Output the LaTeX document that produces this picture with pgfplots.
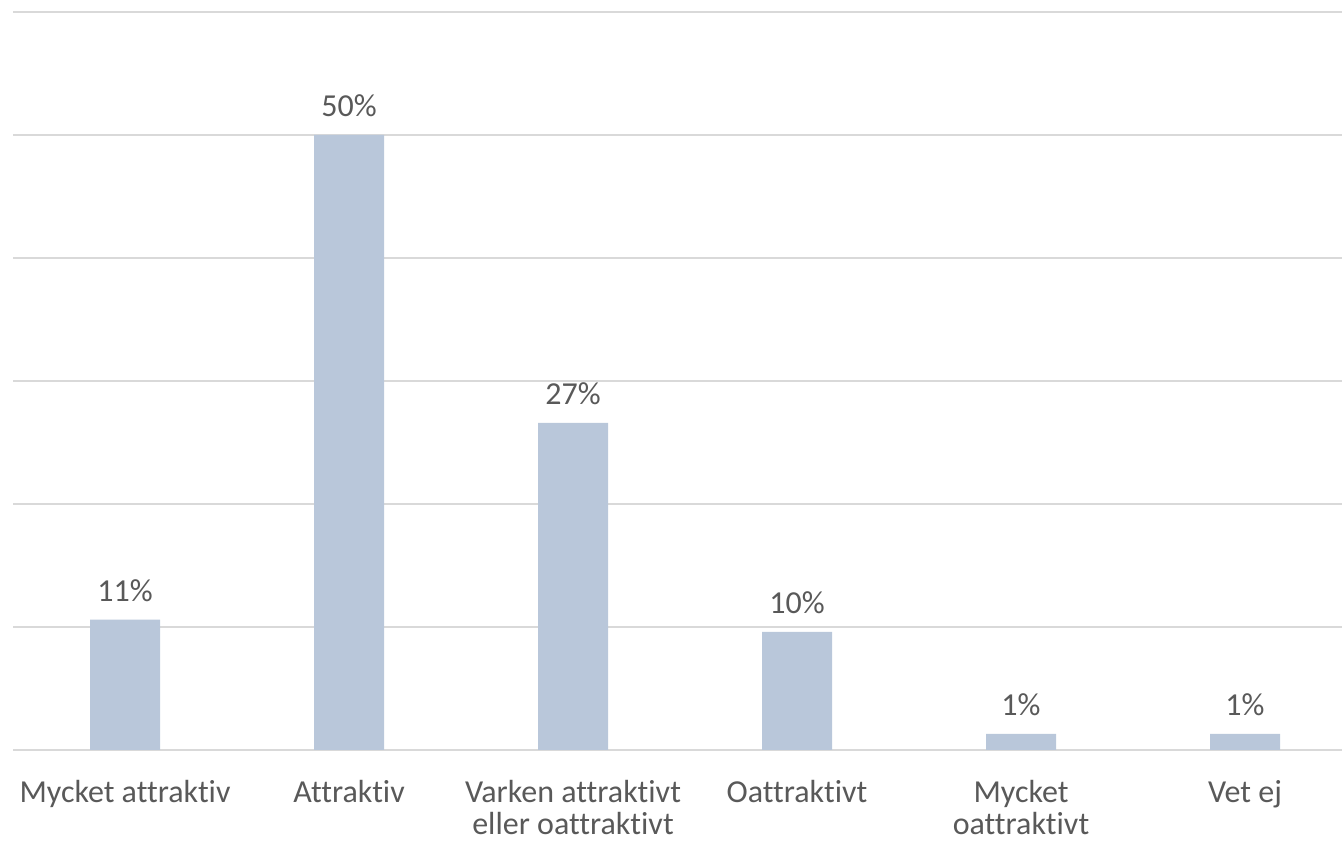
\documentclass[border=0pt]{standalone}
\usepackage{pgfplots}
\pgfplotsset{compat=1.18}
\usepackage{fontspec}
\setmainfont[Ligatures=NoCommon]{Carlito}
\definecolor{barc}{RGB}{185,199,218}
\definecolor{txt}{RGB}{89,89,89}
\definecolor{gridc}{RGB}{217,217,217}
\newcommand{\st}{\rule{0pt}{18pt}}
\begin{document}
\begin{tikzpicture}
\begin{axis}[
  scale only axis, width=996.75pt, height=553.5pt,
  xmin=-0.5, xmax=5.433, ymin=0, ymax=60,
  ytick={0,10,20,30,40,50,60}, yticklabels={},
  ymajorgrids, grid style={gridc, line width=1.3pt},
  axis line style={draw=none}, major tick length=0pt,
  xtick=data,
  xticklabels={\st Mycket attraktiv, \st Attraktiv, {\st Varken attraktivt\\eller oattraktivt}, \st Oattraktivt, {\st Mycket\\oattraktivt}, \st Vet ej},
  xticklabel style={font=\fontsize{24}{24}\selectfont, text=txt, align=center, anchor=north, yshift=-21pt, inner sep=0pt},
  ybar, bar width=52.5pt,
  point meta=explicit symbolic,
  nodes near coords,
  every node near coord/.append style={font=\fontsize{24}{24}\selectfont, text=txt, anchor=base, yshift=13.5pt, inner sep=0pt},
]
\addplot[fill=barc, draw=none] coordinates {(0,10.6)[11\%] (1,50.0)[50\%] (2,26.6)[27\%] (3,9.6)[10\%] (4,1.3)[1\%] (5,1.3)[1\%]};
\coordinate (SW) at (rel axis cs:0,0);
\coordinate (NE) at (rel axis cs:1,1);
\end{axis}
\pgfresetboundingbox
\path[use as bounding box] ([xshift=-9.75pt,yshift=-71.25pt]SW) rectangle ([yshift=9pt]NE);
\end{tikzpicture}
\end{document}
